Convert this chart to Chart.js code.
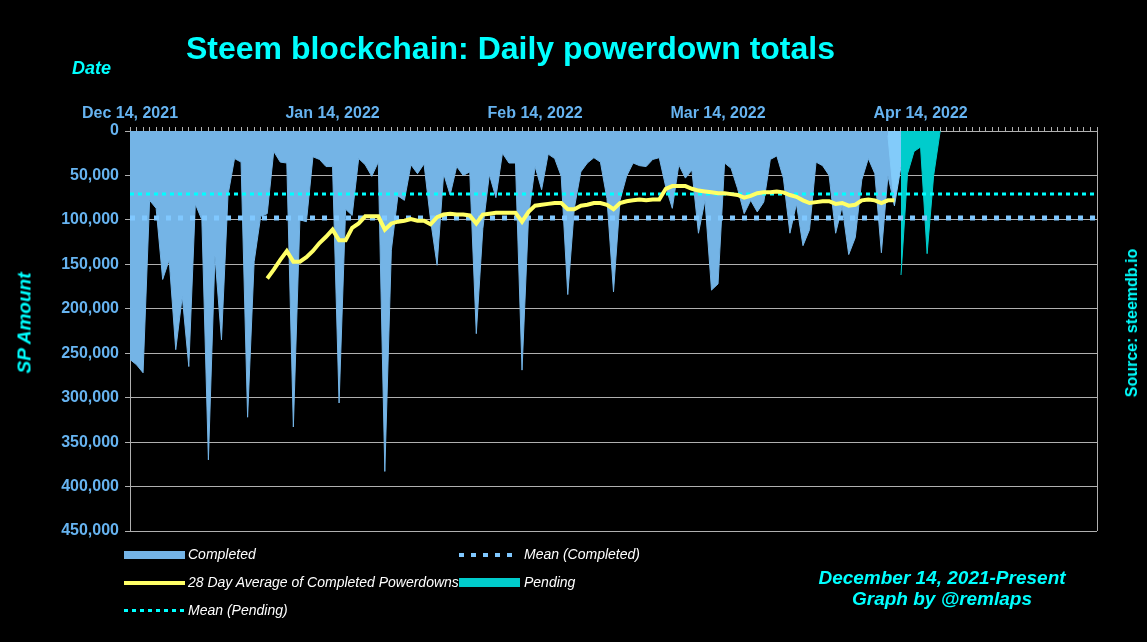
<!DOCTYPE html>
<html>
<head>
<meta charset="utf-8">
<script src="https://cdn.jsdelivr.net/npm/chart.js@4.4.1/dist/chart.umd.min.js"></script>
<style>
  html, body { margin: 0; padding: 0; background: #000; }
  #wrap { position: relative; width: 1147px; height: 642px; background: #000; overflow: hidden;
          font-family: "Liberation Sans", Arial, sans-serif; }
  #c { position: absolute; left: 0; top: 0; }
  .txt { position: absolute; white-space: nowrap; line-height: 1; }
  .cyan { color: #00ffff; font-weight: bold; }
  .leg { position: absolute; color: #fff; font-style: italic; font-size: 14px; line-height: 1; white-space: nowrap; }
  .sw { position: absolute; }
</style>
</head>
<body>
<div id="wrap">
  <canvas id="c" width="1147" height="642"></canvas>
  <div class="txt cyan" id="title" style="font-size:32px; top:32px; left:0; width:1021px; text-align:center;">Steem blockchain: Daily powerdown totals</div>
  <div class="txt cyan" style="font-size:18px; font-style:italic; top:59px; left:72px;">Date</div>
  <div class="txt cyan" style="font-size:19px; font-style:italic; left:24px; top:323px; transform:translate(-50%,-50%) rotate(-90deg);">SP Amount</div>
  <div class="txt cyan" style="font-size:16px; left:1132px; top:323px; transform:translate(-50%,-50%) rotate(-90deg);">Source: steemdb.io</div>
  <div class="txt cyan" style="font-size:19px; font-style:italic; top:568px; left:742px; width:400px; text-align:center;">December 14, 2021-Present</div>
  <div class="txt cyan" style="font-size:19px; font-style:italic; top:589px; left:742px; width:400px; text-align:center;">Graph by @remlaps</div>
  <div id="legend"></div>
</div>
<script>
// Eixo X: dias desde 14/12/2021
const dayMax = 148;
const tickDays = [0, 31, 62, 90, 121];
const tickLabels = ['Dec 14, 2021', 'Jan 14, 2022', 'Feb 14, 2022', 'Mar 14, 2022', 'Apr 14, 2022'];

// Powerdowns concluídos (dia 0 em diante)
const completedStart = 0;
const completed = [
  257000, 263000, 272000, 78000, 87000, 167000, 145000, 246000, 186000, 265000,
  82000, 100000, 370000, 140000, 235000, 72000, 31000, 35000, 322000, 147000,
  96000, 93000, 23000, 35000, 36000, 333000, 100000, 102000, 29000, 32000,
  40000, 40000, 306000, 88000, 95000, 31000, 38000, 51000, 35000, 383000,
  134000, 73000, 78000, 38000, 48000, 37000, 100000, 151000, 48000, 72000,
  40000, 50000, 46000, 228000, 110000, 49000, 75000, 25000, 36000, 36000,
  269000, 96000, 40000, 66000, 26000, 31000, 51000, 184000, 87000, 46000,
  36000, 30000, 35000, 76000, 181000, 78000, 51000, 36000, 39000, 40000,
  32000, 30000, 63000, 87000, 38000, 53000, 44000, 115000, 78000, 179000,
  172000, 36000, 42000, 65000, 93000, 78000, 91000, 80000, 32000, 28000,
  53000, 115000, 82000, 129000, 111000, 35000, 39000, 50000, 115000, 85000,
  139000, 120000, 55000, 31000, 48000, 137000, 50000, 84000
];

// Dia parcial (faixa mais clara entre concluído e pendente)
const partialStart = 116;
const partialDay = [5000, 84000, 40000];

// Powerdowns pendentes
const pendingStart = 118;
const pending = [162000, 48000, 23000, 18000, 138000, 50000, 0];

// Média de 28 dias
const avgStart = 21;
const avg28 = [
  166000, 156000, 145000, 135000, 147000, 147000, 142000, 135000, 126000, 119000,
  111000, 123000, 123000, 109000, 104000, 96000, 96000, 96000, 111000, 104000,
  102000, 101000, 99000, 101000, 101000, 105000, 97000, 94000, 93000, 94000,
  94000, 95000, 104000, 94000, 93000, 92000, 92000, 92000, 92000, 102000,
  91000, 84000, 83000, 82000, 81000, 81000, 88000, 88000, 84000, 83000,
  81000, 81000, 83000, 88000, 81000, 79000, 78000, 77000, 78000, 77000,
  77000, 65000, 62000, 62000, 62000, 65000, 67000, 68000, 69000, 70000,
  70000, 71000, 72000, 75000, 73000, 70000, 69000, 69000, 68000, 69000,
  72000, 74000, 78000, 81000, 80000, 79000, 79000, 82000, 81000, 84000,
  83000, 78000, 77000, 78000, 81000, 78000, 78000
];

// Médias
const meanCompleted = 98000;
const meanPending = 71000;

const yTicks = [0, 50000, 100000, 150000, 200000, 250000, 300000, 350000, 400000, 450000];

function toPoints(values, start) {
  return values.map((v, i) => ({ x: start + i, y: v }));
}

const COL_COMPLETED = '#74b4e6';
const COL_PARTIAL = '#82cbfa';
const COL_PENDING = '#00cccc';
const COL_AVG = '#ffff66';
const COL_MEAN_C = '#80c8ff';
const COL_MEAN_P = '#00ffff';
const COL_AXIS = '#66b3f0';
const COL_GRID = '#b0b0b0';

// Borda direita da área do gráfico
const rightBorder = {
  id: 'rightBorder',
  afterDraw(chart) {
    const a = chart.chartArea, ctx = chart.ctx;
    ctx.save();
    ctx.strokeStyle = COL_GRID;
    ctx.lineWidth = 1;
    ctx.beginPath();
    ctx.moveTo(Math.round(a.right) + 0.5, a.top);
    ctx.lineTo(Math.round(a.right) + 0.5, a.bottom);
    ctx.stroke();
    ctx.restore();
  }
};

document.addEventListener('DOMContentLoaded', function() {
  if (typeof Chart === 'undefined') {
    console.error('Chart.js não está carregado!');
    return;
  }
  const font = { family: '"Liberation Sans", Arial, sans-serif', size: 16, weight: 'bold' };

  new Chart(document.getElementById('c'), {
    type: 'line',
    data: {
      datasets: [
        { label: '28 Day Average of Completed Powerdowns', data: toPoints(avg28, avgStart),
          borderColor: COL_AVG, borderWidth: 4, pointRadius: 0, tension: 0, fill: false },
        { label: 'Mean (Pending)', data: toPoints([meanPending, meanPending], 0).map((p, i) => ({ x: i * dayMax, y: p.y })),
          borderColor: COL_MEAN_P, borderWidth: 3, borderDash: [4, 4], pointRadius: 0, fill: false },
        { label: 'Mean (Completed)', data: toPoints([meanCompleted, meanCompleted], 0).map((p, i) => ({ x: i * dayMax, y: p.y })),
          borderColor: COL_MEAN_C, borderWidth: 5, borderDash: [5, 7], pointRadius: 0, fill: false },
        { label: 'Pending', data: toPoints(pending, pendingStart),
          borderColor: COL_PENDING, backgroundColor: COL_PENDING, borderWidth: 1, pointRadius: 0, tension: 0, fill: 'origin' },
        { label: 'partial', data: toPoints(partialDay, partialStart),
          borderColor: COL_PARTIAL, backgroundColor: COL_PARTIAL, borderWidth: 1, pointRadius: 0, tension: 0, fill: 'origin' },
        { label: 'Completed', data: toPoints(completed, completedStart),
          borderColor: COL_COMPLETED, backgroundColor: COL_COMPLETED, borderWidth: 1, pointRadius: 0, tension: 0, fill: 'origin' }
      ]
    },
    options: {
      responsive: false,
      animation: false,
      devicePixelRatio: 1,
      events: [],
      layout: { padding: { left: 0, top: 0, right: 50, bottom: 111 } },
      plugins: { legend: { display: false }, title: { display: false }, tooltip: { enabled: false } },
      scales: {
        x: {
          type: 'linear', position: 'top', min: 0, max: dayMax,
          afterFit: s => { s.height = 131; },
          ticks: {
            stepSize: 1, maxTicksLimit: 500, autoSkip: false, maxRotation: 0, minRotation: 0,
            color: COL_AXIS, font: font, padding: 4,
            callback: v => { const k = tickDays.indexOf(v); return k >= 0 ? tickLabels[k] : ''; }
          },
          grid: { drawOnChartArea: false, color: COL_GRID, tickLength: 4 },
          border: { color: COL_GRID }
        },
        y: {
          reverse: true, min: 0, max: yTicks[yTicks.length - 1],
          afterFit: s => { s.width = 130; },
          afterBuildTicks: s => { s.ticks = yTicks.map(v => ({ value: v })); },
          ticks: { color: COL_AXIS, font: font, padding: 6, callback: v => v.toLocaleString('en-US') },
          grid: { color: COL_GRID, tickLength: 5 },
          border: { color: COL_GRID }
        }
      }
    },
    plugins: [rightBorder]
  });

  // Legenda em HTML (mesmo layout da imagem)
  const legendItems = [
    { text: 'Completed', x: 124, y: 547, sw: `left:124px;top:551px;width:61px;height:8px;background:${COL_COMPLETED}` },
    { text: 'Mean (Completed)', x: 524, y: 547, sw: `left:459px;top:553px;width:58px;height:4px;background:repeating-linear-gradient(90deg,${COL_MEAN_C} 0 5px,transparent 5px 12px)` },
    { text: '28 Day Average of Completed Powerdowns', x: 124, y: 575, sw: `left:124px;top:581px;width:61px;height:4px;background:${COL_AVG}` },
    { text: 'Pending', x: 524, y: 575, sw: `left:459px;top:578px;width:61px;height:9px;background:${COL_PENDING}` },
    { text: 'Mean (Pending)', x: 124, y: 603, sw: `left:124px;top:609px;width:61px;height:3px;background:repeating-linear-gradient(90deg,${COL_MEAN_P} 0 4px,transparent 4px 8px)` }
  ];
  const leg = document.getElementById('legend');
  legendItems.forEach(it => {
    const s = document.createElement('div');
    s.className = 'sw';
    s.style.cssText = it.sw;
    leg.appendChild(s);
    const t = document.createElement('div');
    t.className = 'leg';
    t.textContent = it.text;
    t.style.left = (it.x === 124 ? 188 : it.x) + 'px';
    t.style.top = it.y + 'px';
    leg.appendChild(t);
  });
});
</script>
</body>
</html>
